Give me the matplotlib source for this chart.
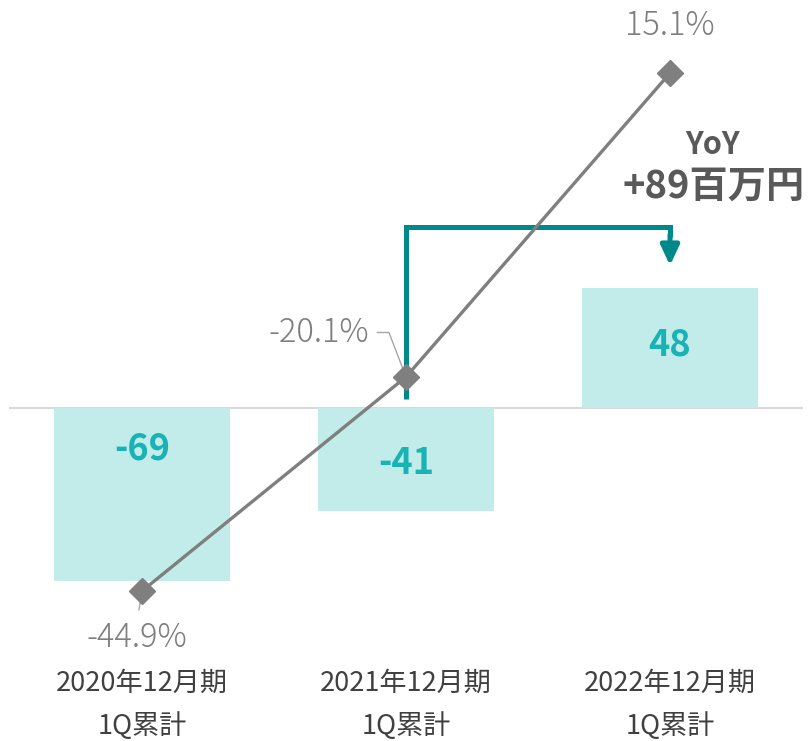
import matplotlib
matplotlib.use("Agg")
import matplotlib.pyplot as plt

plt.rcParams['font.family'] = ['Noto Sans CJK JP', 'DejaVu Sans']

# --- データ ---
periods = ["2020年12月期", "2021年12月期", "2022年12月期"]
sub_labels = ["1Q累計", "1Q累計", "1Q累計"]
profit = [-69, -41, 48]            # 百万円
margin = [-44.9, -20.1, 15.1]      # %
yoy_text = "YoY"
yoy_value = "+89百万円"

# --- 色 ---
BAR_C = "#c2ecea"
BAR_TXT = "#1ab3b5"
LINE_C = "#7f7f7f"
ARROW_C = "#00898a"
TXT_C = "#404040"

W, H = 808, 741
fig = plt.figure(figsize=(W / 100, H / 100), dpi=100)
ax = fig.add_axes([0, 0, 1, 1])
x = list(range(len(periods)))

# 横軸: 1カテゴリ=264px, 先頭の中心=142px
ax.set_xlim(-142 / 264, (W - 142) / 264)
# 棒: 0線=408px, 2.5px/百万円
ax.set_ylim(-(H - 408) / 2.5, 408 / 2.5)
ax.axis('off')

ax.axhline(0, xmin=10 / W, xmax=802 / W, color="#d9d9d9", lw=1.5, zorder=1)
ax.bar(x, profit, width=0.667, color=BAR_C, zorder=2)

# 棒ラベル (位置は見た目で調整)
label_y = [-16.4, -22.0, 25.2]
for i, v in enumerate(profit):
    ax.text(i, label_y[i], f"{v}", ha='center', va='center', color=BAR_TXT,
            fontsize=26, fontweight='bold', zorder=6)

# カテゴリラベル
for i in x:
    ax.text(i, 1 - 683 / H, periods[i], transform=ax.get_xaxis_transform(),
            ha='center', va='center', fontsize=19.5, color=TXT_C)
    ax.text(i, 1 - 726 / H, sub_labels[i], transform=ax.get_xaxis_transform(),
            ha='center', va='center', fontsize=19.5, color=TXT_C)

# YoY 矢印
top = 72.4
ax.plot([1, 1, 2, 2], [3.6, top, top, top - 4], color=ARROW_C, lw=3.6,
        solid_joinstyle='miter', solid_capstyle='butt', zorder=4)
ax.annotate("", xy=(2, 57.0), xytext=(2, top - 3),
            arrowprops=dict(arrowstyle='-|>,head_width=0.28,head_length=0.6',
                            color=ARROW_C, lw=3.6, mutation_scale=20,
                            shrinkA=0, shrinkB=0), zorder=4)
ax.text(2.16, (408 - 145) / 2.5, yoy_text, ha='center', va='center',
        fontsize=22, fontweight='bold', color="#595959")
ax.text(2.165, (408 - 186) / 2.5, yoy_value, ha='center', va='center',
        fontsize=27.5, fontweight='bold', color="#595959")

# 利益率 (第2軸): 0=203.4px, 8.633px/%
ax2 = ax.twinx()
ax2.set_ylim(-(H - 203.4) / 8.633, 203.4 / 8.633)
ax2.axis('off')
ax2.plot(x, margin, color=LINE_C, lw=2.4, marker='D', ms=13, zorder=5)

ax2.annotate(f"{margin[2]}%", xy=(x[2], margin[2]), xytext=(0, 34),
             textcoords='offset points', ha='center', va='center',
             fontsize=23.5, fontweight='light', color=LINE_C)
ax2.annotate(f"{margin[1]}%", xy=(x[1], margin[1]), xytext=(-63, 32),
             textcoords='offset points', ha='center', va='center',
             fontsize=23.5, fontweight='light', color=LINE_C,
             arrowprops=dict(arrowstyle='-', color="#a6a6a6", lw=1,
                             relpos=(1.0, 0.5), shrinkA=4, shrinkB=0,
                             connectionstyle='angle,angleA=0,angleB=111,rad=0'),
             zorder=1)
ax2.annotate(f"{margin[0]}%", xy=(x[0], margin[0]), xytext=(-3.5, -34),
             textcoords='offset points', ha='center', va='center',
             fontsize=23.5, fontweight='light', color=LINE_C,
             arrowprops=dict(arrowstyle='-', color="#a6a6a6", lw=1,
                             relpos=(0.5, 1.0), shrinkA=6, shrinkB=0),
             zorder=1)

fig.savefig("out.png", dpi=100)
